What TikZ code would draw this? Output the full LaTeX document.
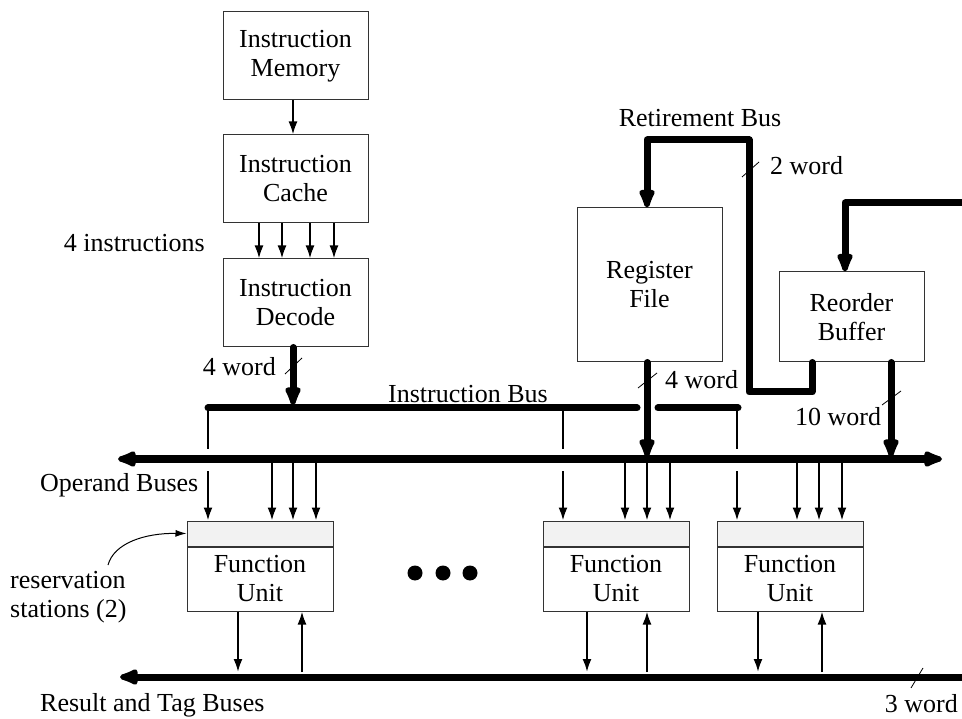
\documentclass[tikz,border=0pt]{standalone}
\usepackage{fontspec}
\setmainfont{Liberation Serif}
\usetikzlibrary{arrows.meta}
\begin{document}
\begin{tikzpicture}[x=1pt,y=-1pt,
  every node/.style={font=\fontsize{26}{29}\selectfont},
  box/.style={draw=black!80, line width=1pt, align=center, inner sep=0pt},
  station/.style={draw=black!80, line width=1pt, fill=black!5, inner sep=0pt, minimum width=146, minimum height=25},
  fubox/.style={box, minimum width=146, minimum height=64},
  thinarrow/.style={line width=2pt, -{Latex[length=13pt,width=9pt]}},
  thinline/.style={line width=2pt},
  bus/.style={line width=7pt, line cap=round, line join=round},
  bustip/.tip={Latex[length=26pt,width=19pt,round]},
  busarrow/.style={bus, -bustip},
  slash/.style={line width=0.8pt},
  lbl/.style={inner sep=0pt}]
\useasboundingbox (0,0) rectangle (962,719);

% ---- front end: memory, cache, decode
\node[box, minimum width=145, minimum height=88] (imem) at (295.5,56) {Instruction\\Memory};
\node[box, minimum width=145, minimum height=88] (icache) at (295.5,179) {Instruction\\Cache};
\node[box, minimum width=145, minimum height=88] (idec) at (295.5,303) {Instruction\\Decode};
\draw[thinarrow] ([xshift=-2.5]imem.south) -- ([xshift=-2.5]icache.north);
\foreach \dx in {-36.5,-13.5,14.5,38.5}
  \draw[thinarrow] ([xshift=\dx]icache.south) -- ([xshift=\dx]idec.north);
\node[lbl, anchor=east] (ninstr) at (205,243) {4 instructions};

% ---- register file and reorder buffer
\node[box, minimum width=145, minimum height=154] (regf) at (649.5,285) {Register\\File};
\node[box, minimum width=145, minimum height=90] (rob) at (851.5,317) {Reorder\\Buffer};

% ---- function units with reservation stations
\foreach \n/\cx in {1/260,2/616,3/790} {
  \node[station] (rs\n) at (\cx,533.5) {};
  \node[fubox, anchor=north] (fu\n) at (rs\n.south) {Function\\Unit};
}
\fill (415,573) circle (7.5) (443,573) circle (7.5) (470,573) circle (7.5);

% ---- bus end points
\coordinate (opL) at (118,459);
\coordinate (opR) at (942,459);
\coordinate (resL) at (120,677);
\coordinate (resR) at (962,677);
\coordinate (ibL) at (208,408);
\coordinate (ibA) at (637,408);
\coordinate (ibB) at (658,408);
\coordinate (ibR) at (738,408);
\coordinate (retR) at (962,203);

% operand and result buses
\draw[bus, bustip-bustip] (opL) -- (opR);
\draw[bus, bustip-] (resL) -- (resR);

% instruction bus, fed by the decoder
\draw[bus] (ibL) -- (ibA);
\draw[bus] (ibB) -- (ibR);
\draw[busarrow] (idec.south -| 293,0) -- (293,405);

% instruction bus taps down to the reservation stations
\foreach \x/\n in {208/1,563/2,737/3} {
  \draw[thinline] (\x,408) -- (\x,449);
  \draw[thinarrow] (\x,471) -- (rs\n.north -| \x,0);
}

% operand bus taps into the reservation stations
\foreach \x/\n in {272/1,293/1,316/1,625/2,647/2,670/2,797/3,819/3,842/3}
  \draw[thinarrow] (\x,463) -- (rs\n.north -| \x,0);

% function unit results and tags
\foreach \xd/\xu/\n in {238/302/1,587/647/2,758/822/3} {
  \draw[thinarrow] (fu\n.south -| \xd,0) -- (\xd,672);
  \draw[thinarrow] (\xu,672) -- (fu\n.south -| \xu,0);
}

% register file and reorder buffer onto the operand bus
\draw[busarrow] (regf.south -| 647,0) -- (647,457);
\draw[busarrow] (rob.south -| 891,0) -- (891,457);

% retirement bus
\draw[busarrow] (rob.south -| 812,0) -- (812,392) -- (749,392) -- (749,140) -- (647,140) -- (regf.north -| 647,0);
\draw[busarrow] (retR) -- (845,203) -- (rob.north -| 845,0);

% width marks
\draw[slash] (285,374) -- (302,358);
\draw[slash] (742,177) -- (759,162);
\draw[slash] (638,388) -- (657,373);
\draw[slash] (882,405) -- (901,391);
\draw[slash] (911,688) -- (923,668);

% labels
\node[lbl, anchor=east] (w1) at (276,367) {4 word};
\node[lbl] (ibus) at (468,394) {Instruction Bus};
\node[lbl] (rbus) at (700,118) {Retirement Bus};
\node[lbl, anchor=west] (w2) at (770,166) {2 word};
\node[lbl, anchor=west] (w3) at (665,380) {4 word};
\node[lbl, anchor=west] (w4) at (795,417) {10 word};
\node[lbl, anchor=west] (opb) at (40,485) {Operand Buses};
\node[lbl, anchor=west, align=left] (resv) at (10,597) {reservation\\stations (2)};
\node[lbl, anchor=west] (resb) at (40,705) {Result and Tag Buses};
\node[lbl, anchor=east] (w5) at (958,704) {3 word};

% pointer to the reservation station
\draw[line width=1pt, -{Latex[length=11pt,width=7pt]}] (108,565) .. controls (114,543) and (145,533) .. (rs1.west);
\end{tikzpicture}
\end{document}
